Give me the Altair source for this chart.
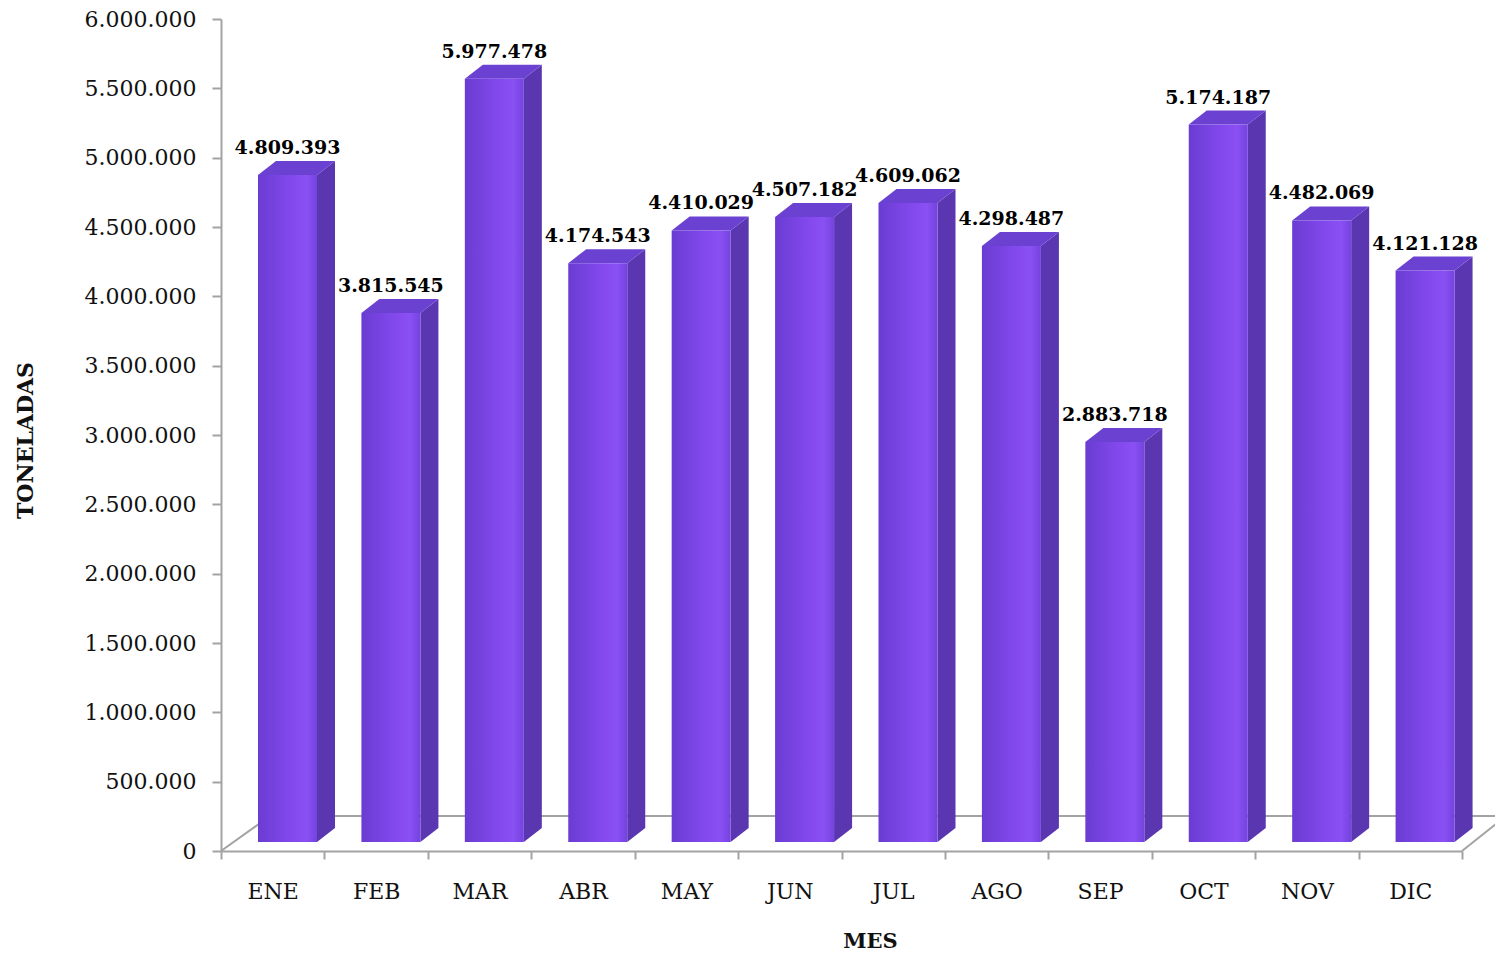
import altair as alt
import pandas as pd

# ---------------- data ----------------
months = ["ENE", "FEB", "MAR", "ABR", "MAY", "JUN", "JUL", "AGO", "SEP", "OCT", "NOV", "DIC"]
# heights of the drawn bars
bar_heights = [4809393, 3815545, 5505000, 4174543, 4410029, 4507182,
               4609062, 4298487, 2883718, 5174187, 4482069, 4121128]
# data labels as printed on the chart
value_labels = ["4.809.393", "3.815.545", "5.977.478", "4.174.543", "4.410.029", "4.507.182",
                "4.609.062", "4.298.487", "2.883.718", "5.174.187", "4.482.069", "4.121.128"]
y_tick_values = [i * 500000 for i in range(13)]
y_tick_labels = ["0", "500.000", "1.000.000", "1.500.000", "2.000.000", "2.500.000", "3.000.000",
                 "3.500.000", "4.000.000", "4.500.000", "5.000.000", "5.500.000", "6.000.000"]

# ---------------- geometry / style ----------------
W, H = 1241, 832
TOP_PAD = 11
Y_MAX = 6000000
N = len(months)
BAND = W / N
UX = 1 / BAND          # x data units per pixel
UY = Y_MAX / H         # y data units per pixel
FRONT_L, FRONT_R = 37, 96
DX, DY = 18, 14
BASE = 9
FLOOR_DY = 35
FLOOR_DX_L, FLOOR_DX_R = 49, 44

AX_COLOR = "#a3a3a3"
FONT = "DejaVu Serif"
SIDE = "#5a37b0"
TOPC = "#6b41d2"

front_rows, side_rows, top_rows, label_rows = [], [], [], []
for i, (m, v, lab) in enumerate(zip(months, bar_heights, value_labels)):
    b = BASE * UY
    top = v + b
    xl = i + FRONT_L * UX
    xr = i + FRONT_R * UX
    dx = DX * UX
    dy = DY * UY
    front_rows.append(dict(m=m, x=xl, x2=xr, y=b, y2=top))
    side_rows += [dict(m=m, x=xr, y=top, y2=b),
                  dict(m=m, x=xr + dx, y=top + dy, y2=b + dy)]
    top_rows += [dict(m=m, x=xl, y=top, y2=top),
                 dict(m=m, x=xl + dx, y=top + dy, y2=top),
                 dict(m=m, x=xr, y=top + dy, y2=top),
                 dict(m=m, x=xr + dx, y=top + dy, y2=top + dy)]
    label_rows.append(dict(m=m, x=(xl + xr) / 2, y=top, label=lab))

fd = FLOOR_DY * UY
floor_rows = [
    dict(x=0, x2=FLOOR_DX_L * UX, y=0, y2=fd),
    dict(x=FLOOR_DX_L * UX, x2=N + FLOOR_DX_R * UX, y=fd, y2=fd),
    dict(x=N, x2=N + FLOOR_DX_R * UX, y=0, y2=fd),
]

xs = alt.Scale(domain=[0, N], nice=False, zero=False)
ys = alt.Scale(domain=[0, Y_MAX], nice=False)

month_js = "[" + ",".join(f"'{m}'" for m in months) + "]"
ylab_js = "[" + ",".join(f"'{t}'" for t in y_tick_labels) + "]"

x_axis = alt.Axis(
    values=[k / 2 for k in range(0, 2 * N + 1)],
    labelExpr=f"(datum.value % 1) == 0.5 ? {month_js}[floor(datum.value)] : ''",
    tickOpacity={"condition": {"test": "(datum.value % 1) == 0", "value": 1}, "value": 0},
    labelOverlap=False, labelFlush=False, grid=False,
    domainColor=AX_COLOR, domainWidth=2, tickColor=AX_COLOR, tickWidth=2, tickSize=8,
    labelFont=FONT, labelFontSize=22, labelColor="#111111", labelBaseline="middle",
    labelPadding=32,
    titleFont=FONT, titleFontSize=21, titleFontWeight="bold", titleColor="#111111",
    titleX=649, titleY=90, titleBaseline="middle", titleAlign="center",
)
y_axis = alt.Axis(
    values=y_tick_values,
    labelExpr=f"{ylab_js}[round(datum.value / 500000)]",
    grid=False, domainColor=AX_COLOR, domainWidth=2, tickColor=AX_COLOR, tickWidth=2, tickSize=9,
    labelFont=FONT, labelFontSize=22, labelColor="#111111", labelPadding=16,
    labelBaseline="middle",
    titleFont=FONT, titleFontSize=22, titleFontWeight="bold", titleColor="#111111",
    titleX=-196, titleY=440 - 8 - TOP_PAD, titleBaseline="middle", titleAlign="center", titleAngle=270,
)


def X(field):
    return alt.X(field, scale=xs, axis=x_axis, title="MES")


def Y(field):
    return alt.Y(field, scale=ys, axis=y_axis, title="TONELADAS")


floor = alt.Chart(pd.DataFrame(floor_rows)).mark_rule(color=AX_COLOR, strokeWidth=2).encode(
    x=X("x:Q"), x2="x2:Q", y=Y("y:Q"), y2="y2:Q",
)

side = alt.Chart(pd.DataFrame(side_rows)).mark_area(color=SIDE, interpolate="linear").encode(
    x=X("x:Q"), y=Y("y:Q"), y2="y2:Q", detail="m:N",
)

topf = alt.Chart(pd.DataFrame(top_rows)).mark_area(color=TOPC, interpolate="linear").encode(
    x=X("x:Q"), y=Y("y:Q"), y2="y2:Q", detail="m:N",
)

grad = alt.Gradient(
    gradient="linear", x1=0, x2=1, y1=0, y2=0,
    stops=[
        alt.GradientStop(offset=0, color="#6a3cd2"),
        alt.GradientStop(offset=0.55, color="#8248ec"),
        alt.GradientStop(offset=0.82, color="#8a50f3"),
        alt.GradientStop(offset=1, color="#7443df"),
    ],
)
front = alt.Chart(pd.DataFrame(front_rows)).mark_bar(color=grad).encode(
    x=X("x:Q"), x2="x2:Q", y=Y("y:Q"), y2="y2:Q",
)

labels = alt.Chart(pd.DataFrame(label_rows)).mark_text(
    font=FONT, fontWeight="bold", fontSize=19, baseline="middle", dy=-27, color="#000000"
).encode(
    x=X("x:Q"), y=Y("y:Q"), text="label:N",
)

chart = alt.layer(floor, side, topf, front, labels).properties(
    width=W, height=H,
    autosize=alt.AutoSizeParams(type="none"),
    padding={"left": 213, "top": TOP_PAD, "right": 33, "bottom": 102},
    background="white",
).configure_view(stroke=None)

chart.save("out.html", embed_options={"renderer": "svg", "actions": False})
